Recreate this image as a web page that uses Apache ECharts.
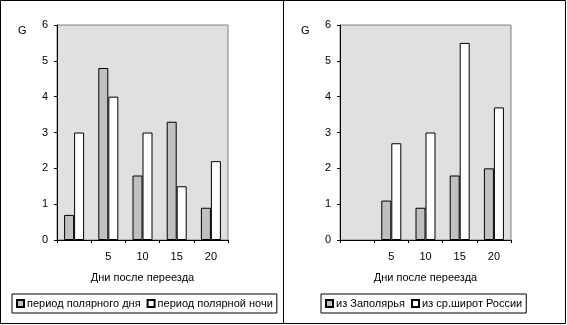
<!DOCTYPE html>
<html>
<head>
<meta charset="utf-8">
<script src="https://cdn.jsdelivr.net/npm/echarts@6/dist/echarts.min.js"></script>
<style>
html,body{margin:0;padding:0;background:#fff;}
#c{width:567px;height:325px;}
</style>
</head>
<body>
<div id="c"></div>
<script>
var categories = ['', '5', '10', '15', '20'];
var yTicks = [0, 1, 2, 3, 4, 5, 6];
var xAxisName = 'Дни после переезда';
var yAxisName = 'G';

var leftNames = ['период полярного дня', 'период полярной ночи'];
var leftDay = [0.7, 4.8, 1.8, 3.3, 0.9];
var leftNight = [3.0, 4.0, 3.0, 1.5, 2.2];

var rightNames = ['из Заполярья', 'из ср.широт России'];
var rightNorth = [null, 1.1, 0.9, 1.8, 2.0];
var rightMid = [null, 2.7, 3.0, 5.5, 3.7];

var FONT = 'Liberation Sans, Arial, sans-serif';
var chart = echarts.init(document.getElementById('c'), null, {renderer: 'canvas'});

function xAx(gi) {
  return {
    type: 'category', gridIndex: gi, data: categories,
    name: xAxisName, nameLocation: 'middle', nameGap: 32,
    nameTextStyle: {color: '#000', fontSize: 11, fontFamily: FONT},
    axisLine: {lineStyle: {color: '#000', width: 1}},
    axisTick: {show: true, length: 3, lineStyle: {color: '#000'}},
    axisLabel: {color: '#000', fontSize: 11, fontFamily: FONT, margin: 11, interval: 0},
    splitLine: {show: false}
  };
}
function yAx(gi) {
  return {
    type: 'value', gridIndex: gi, min: yTicks[0], max: yTicks[yTicks.length - 1], interval: 1,
    axisLine: {show: true, lineStyle: {color: '#000', width: 1}},
    axisTick: {show: true, length: 3, lineStyle: {color: '#000'}},
    axisLabel: {color: '#000', fontSize: 11, fontFamily: FONT, margin: 9},
    splitLine: {show: false}
  };
}
function bar(name, data, xi, color) {
  return {
    type: 'bar', name: name, data: data, xAxisIndex: xi, yAxisIndex: xi,
    barWidth: 10, barGap: '0%',
    itemStyle: {color: color, borderColor: '#000', borderWidth: 1},
    emphasis: {disabled: true}
  };
}
function legend(names, left) {
  return {
    data: names, left: left, top: 294, orient: 'horizontal',
    icon: 'rect', itemWidth: 7, itemHeight: 7, itemGap: 6,
    padding: [4, 4, 4, 4],
    backgroundColor: '#fff', borderColor: '#000', borderWidth: 1,
    textStyle: {color: '#000', fontSize: 11, fontFamily: FONT, padding: [0, 0, 0, -2]},
    selectedMode: false
  };
}

chart.setOption({
  animation: false,
  backgroundColor: '#fff',
  grid: [
    {left: 57, top: 25, width: 171, height: 215, show: true, backgroundColor: '#e0e0e0', borderColor: '#808080', borderWidth: 1},
    {left: 340, top: 25, width: 171, height: 215, show: true, backgroundColor: '#e0e0e0', borderColor: '#808080', borderWidth: 1}
  ],
  xAxis: [xAx(0), xAx(1)],
  yAxis: [yAx(0), yAx(1)],
  legend: [legend(leftNames, 12), legend(rightNames, 321)],
  series: [
    bar(leftNames[0], leftDay, 0, '#c0c0c0'),
    bar(leftNames[1], leftNight, 0, '#ffffff'),
    bar(rightNames[0], rightNorth, 1, '#c0c0c0'),
    bar(rightNames[1], rightMid, 1, '#ffffff')
  ],
  graphic: [
    {type: 'rect', shape: {x: 0.5, y: 0.5, width: 283, height: 323}, style: {fill: null, stroke: '#000', lineWidth: 1}, z: -1},
    {type: 'rect', shape: {x: 283.5, y: 0.5, width: 282, height: 323}, style: {fill: null, stroke: '#000', lineWidth: 1}, z: -1},
    {type: 'text', left: 18, top: 25, style: {text: yAxisName, fill: '#000', font: '11px ' + FONT}},
    {type: 'text', left: 301, top: 25, style: {text: yAxisName, fill: '#000', font: '11px ' + FONT}}
  ]
});
</script>
</body>
</html>
